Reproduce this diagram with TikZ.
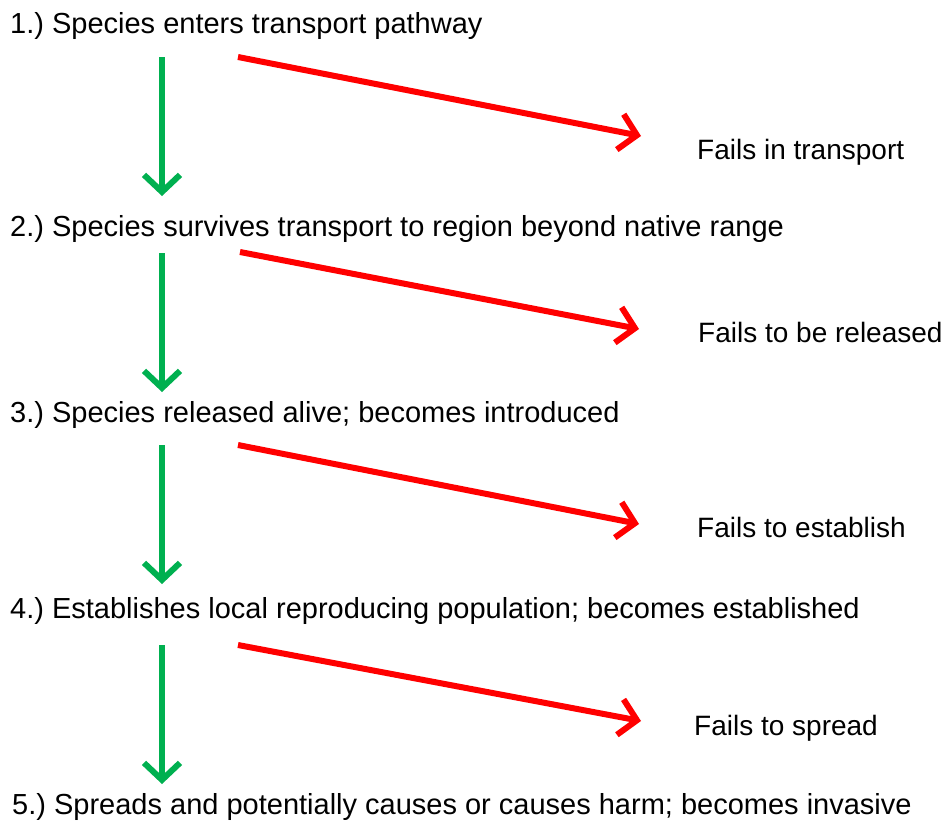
\documentclass[tikz,border=0pt]{standalone}
\usepackage{fontspec}
\setmainfont{Liberation Sans}
\usetikzlibrary{arrows.meta}
\definecolor{okgreen}{RGB}{0,176,80}
\definecolor{failred}{RGB}{255,0,0}
\frenchspacing
\begin{document}
\begin{tikzpicture}[x=1pt,y=-1pt,
  lbl/.style={anchor=base west, inner sep=0pt, font=\fontsize{29}{33}\selectfont},
  faillbl/.style={anchor=base west, inner sep=0pt, font=\fontsize{28}{32}\selectfont},
  goarrow/.style={draw=okgreen, line width=6pt, -{Straight Barb[length=17pt,width=36pt,line width=6pt]}},
  failarrow/.style={draw=failred, line width=6pt, -{Straight Barb[length=17pt,width=36pt,line width=6pt]}}]
\useasboundingbox (0,0) rectangle (948,827);
\node[lbl] (s1) at (10,34) {1.) Species enters transport pathway};
\node[lbl] (s2) at (10,236) {2.) Species survives transport to region beyond native range};
\node[lbl] (s3) at (10,422) {3.) Species released alive; becomes introduced};
\node[lbl] (s4) at (10,618) {4.) Establishes local reproducing population; becomes established};
\node[lbl] (s5) at (12,814) {5.) Spreads and potentially causes or causes harm; becomes invasive};
\node[faillbl] (f1) at (697,159) {Fails in transport};
\node[faillbl] (f2) at (698,342) {Fails to be released};
\node[faillbl] (f3) at (697,537) {Fails to establish};
\node[faillbl] (f4) at (694,735) {Fails to spread};
\coordinate (g1a) at (162,57);  \coordinate (g1b) at (162,196);
\coordinate (g2a) at (162,253); \coordinate (g2b) at (162,392);
\coordinate (g3a) at (162,445); \coordinate (g3b) at (162,584);
\coordinate (g4a) at (162,645); \coordinate (g4b) at (162,784);
\coordinate (r1a) at (238,57);  \coordinate (r1b) at (641,136);
\coordinate (r2a) at (240,252); \coordinate (r2b) at (639,329);
\coordinate (r3a) at (238,445); \coordinate (r3b) at (639,524);
\coordinate (r4a) at (238,645); \coordinate (r4b) at (641,721);
\draw[goarrow] (g1a) -- (g1b);
\draw[goarrow] (g2a) -- (g2b);
\draw[goarrow] (g3a) -- (g3b);
\draw[goarrow] (g4a) -- (g4b);
\draw[failarrow] (r1a) -- (r1b);
\draw[failarrow] (r2a) -- (r2b);
\draw[failarrow] (r3a) -- (r3b);
\draw[failarrow] (r4a) -- (r4b);
\end{tikzpicture}
\end{document}
